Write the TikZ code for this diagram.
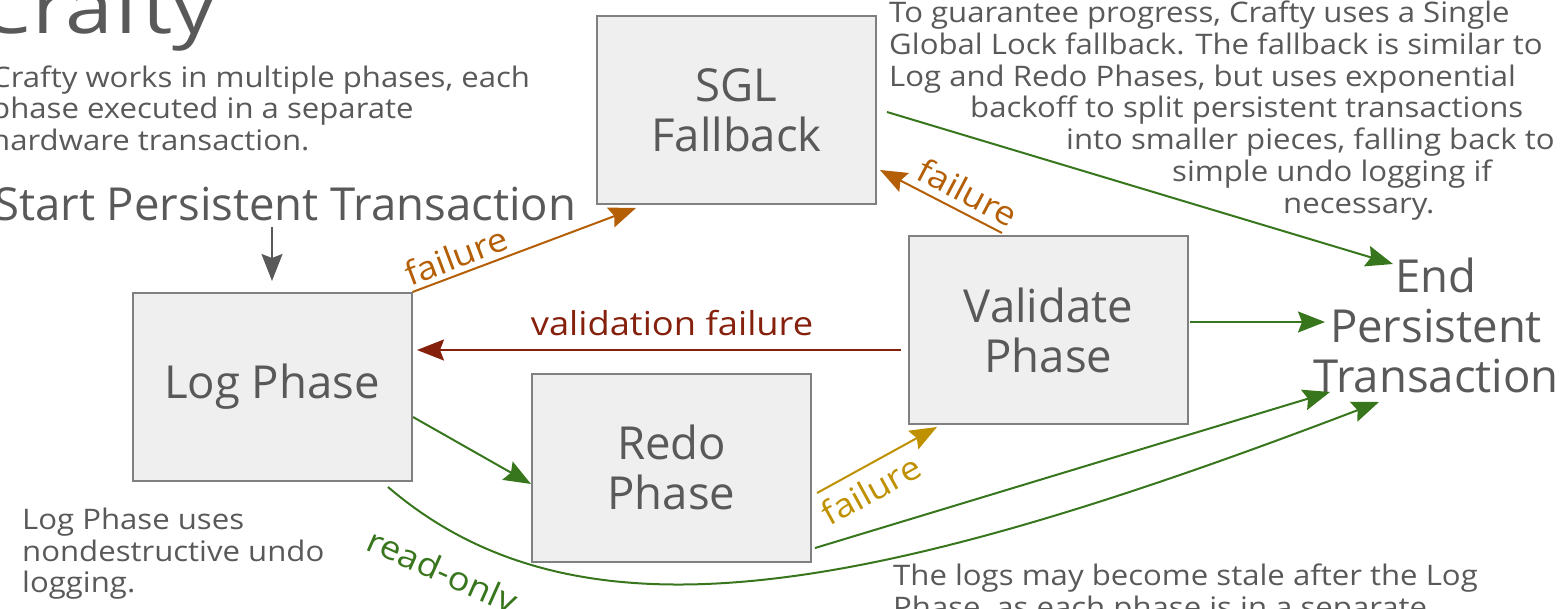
\documentclass[tikz,border=0pt]{standalone}
\usepackage{fontspec}
\setmainfont{Open Sans}
\newfontfamily\widefont[FakeStretch=1.1]{Open Sans}
\newfontfamily\titlefont[FakeStretch=1.16]{Open Sans}
\usetikzlibrary{arrows.meta}
\definecolor{txt}{HTML}{595959}
\definecolor{boxfill}{HTML}{EFEFEF}
\definecolor{boxline}{HTML}{808080}
\definecolor{dgreen}{HTML}{38761D}
\definecolor{dorange}{HTML}{B45F06}
\definecolor{dred}{HTML}{85200C}
\definecolor{dgold}{HTML}{BF9000}
\newcommand\bigtxt{\fontsize{45.5}{50}\selectfont}
\newcommand\smalltxt{\widefont\fontsize{28.3}{32}\selectfont}
\newcommand\lbltxt{\widefont\fontsize{33}{38}\selectfont}
\newcommand\titletxt{\titlefont\fontsize{74}{84}\selectfont}
\tikzset{
  phase/.style={draw=boxline, fill=boxfill, line width=2pt, minimum width=279pt,
    minimum height=188pt, inner sep=0pt, align=center, text=txt, font=\bigtxt},
  para/.style={inner sep=0pt, anchor=base west, text=txt, font=\smalltxt},
  bigl/.style={inner sep=0pt, text=txt, font=\bigtxt},
  lbl/.style={inner sep=0pt, font=\lbltxt},
  conn/.style={line width=2pt, -{Stealth[length=27pt,width=21pt,inset=4pt]}},
}
\begin{document}
\begin{tikzpicture}[x=1pt,y=-1pt]
\useasboundingbox (0,0) rectangle (1562,608);

% title and texts
\node[inner sep=0pt, anchor=base east, text=txt, font=\titletxt] (title) at (216,33) {Crafty};
\node[para] (intro1) at (-9,87) {Crafty works in multiple phases, each};
\node[para] (intro2) at (-9,118) {phase executed in a separate};
\node[para] (intro3) at (-9,150) {hardware transaction.};
\node[bigl, anchor=base west] (start) at (-6,220) {Start Persistent Transaction};

\node[para] (sgl1) at (889,22) {To guarantee progress, Crafty uses a Single};
\node[para] (sgl2) at (889,54) {Global Lock fallback. The fallback is similar to};
\node[para] (sgl3) at (889,86) {Log and Redo Phases, but uses exponential};
\node[para] (sgl4) at (970,117) {backoff to split persistent transactions};
\node[para] (sgl5) at (1066,149) {into smaller pieces, falling back to};
\node[para] (sgl6) at (1172,181) {simple undo logging if};
\node[para] (sgl7) at (1283,213) {necessary.};

\node[para] (lognote1) at (22,529) {Log Phase uses};
\node[para] (lognote2) at (22,561) {nondestructive undo};
\node[para] (lognote3) at (22,592) {logging.};

\node[para] (stale1) at (893,585) {The logs may become stale after the Log};
\node[para] (stale2) at (893,617) {Phase, as each phase is in a separate};

% phase boxes
\node[phase] (sgl) at (736.5,110) {SGL\\Fallback};
\node[phase] (val) at (1048.5,330) {Validate\\Phase};
\node[phase] (redo) at (671.5,467.5) {Redo\\Phase};
\node[phase] (log) at (272,387) {Log Phase};

\node[bigl, align=center] (end) at (1436,325) {End\\Persistent\\Transaction};

% connector end points
\coordinate (startOut) at (272,227);
\coordinate (sglIn1) at (636,208);
\coordinate (valOut1) at (1002,233);
\coordinate (sglIn2) at (880,170);
\coordinate (valOut2) at (901,350);
\coordinate (logIn) at (417,350);
\coordinate (logOut1) at (413,417);
\coordinate (redoIn) at (531,484);
\coordinate (redoOut1) at (817,493);
\coordinate (valIn) at (937,427);
\coordinate (valOut3) at (1190,322);
\coordinate (endIn1) at (1325,322);
\coordinate (sglOut) at (887,112);
\coordinate (endIn2) at (1393,264);
\coordinate (redoOut2) at (815,548);
\coordinate (endIn3) at (1330,392);
\coordinate (logOut2) at (388,487);
\coordinate (endIn4) at (1379,402);

% connectors
\draw[conn, txt] (startOut) -- (log.north) [shorten >=11pt];
\draw[conn, dorange] (log.north east) -- (sglIn1);
\draw[conn, dorange] (valOut1) -- (sglIn2);
\draw[conn, dred] (valOut2) -- (logIn);
\draw[conn, dgreen] (logOut1) -- (redoIn);
\draw[conn, dgold] (redoOut1) -- (valIn);
\draw[conn, dgreen] (valOut3) -- (endIn1);
\draw[conn, dgreen] (sglOut) -- (endIn2);
\draw[conn, dgreen] (redoOut2) -- (endIn3);
\draw[conn, dgreen] (logOut2) .. controls (578,650) and (866,598) .. (endIn4);

% connector labels
\node[lbl, text=dorange, rotate=20.7] (f1) at (456,256) {failure};
\node[lbl, text=dorange, rotate=-27.7] (f2) at (968,192) {failure};
\node[lbl, text=dred, anchor=base] (vf) at (672,335) {validation failure};
\node[lbl, text=dgold, rotate=28.8] (f3) at (871,490) {failure};
\node[lbl, text=dgreen, rotate=-24] (ro) at (441,574) {read-only};
\end{tikzpicture}
\end{document}
